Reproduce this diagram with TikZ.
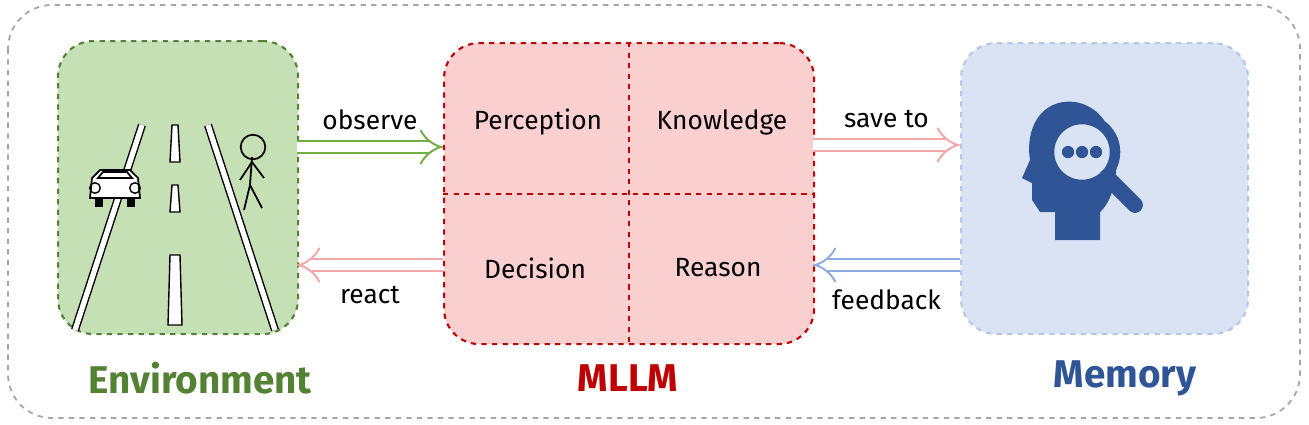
\documentclass[tikz,border=0pt]{standalone}
\usepackage{fontspec}
\setmainfont{Fira Sans}
\usetikzlibrary{arrows.meta}
\definecolor{envgreen}{HTML}{548235}
\definecolor{envfill}{HTML}{C5E0B4}
\definecolor{mred}{HTML}{C00000}
\definecolor{mfill}{HTML}{F9CFD0}
\definecolor{memblue}{HTML}{2F5597}
\definecolor{memline}{HTML}{B4C7E7}
\definecolor{memfill}{HTML}{DAE3F3}
\definecolor{arrpink}{HTML}{F4A6A8}
\definecolor{arrblue}{HTML}{8FAADC}
\definecolor{arrgreen}{HTML}{70AD47}
\begin{document}
\begin{tikzpicture}[x=0.02cm,y=-0.02cm, thick,
  box/.style = {draw, dashed, rounded corners=20pt, line width=1.2pt, anchor=north west},
  flow/.style = {double, double distance=6pt, line width=1.1pt, -{Implies}},
  lbl/.style = {font=\fontsize{15}{18}\selectfont},
  title/.style = {font=\fontsize{22}{26}\selectfont\bfseries}]
\useasboundingbox (0,0) rectangle (1309,424);
\draw[gray!70, dashed, rounded corners=25pt, line width=1pt] (8,5) rectangle (1300,418);
% boxes
\node[box, draw=envgreen, fill=envfill, minimum width=240*0.02cm, minimum height=293*0.02cm] (env) at (57,40) {};
\node[box, draw=mred, fill=mfill, minimum width=370*0.02cm, minimum height=301*0.02cm] (mllm) at (443,42) {};
\node[box, draw=memline, fill=memfill, minimum width=287*0.02cm, minimum height=291*0.02cm] (mem) at (960,42) {};
\draw[mred, dashed, line width=1.2pt] (mllm.north) -- (mllm.south);
\draw[mred, dashed, line width=1.2pt] (mllm.west) -- (mllm.east);
% quadrant texts
\node[lbl] (perc) at (538,122) {Perception};
\node[lbl] (know) at (722,122) {Knowledge};
\node[lbl] (deci) at (535,268) {Decision};
\node[lbl] (reas) at (718,268) {Reason};
% titles
\node[title, text=envgreen] (envt) at (200,378) {Environment};
\node[title, text=mred] (mllmt) at (628,378) {MLLM};
\node[title, text=memblue] (memt) at (1125,378) {Memory};
% arrows
\coordinate (o1) at (297,147); \coordinate (o2) at (443,147);
\coordinate (s1) at (813,145); \coordinate (s2) at (960,145);
\coordinate (r1) at (443,265); \coordinate (r2) at (297,265);
\coordinate (f1) at (960,265); \coordinate (f2) at (813,265);
\draw[flow, arrgreen] (o1) -- (o2) node[midway, above=6pt, text=black, lbl] {observe};
\draw[flow, arrpink] (s1) -- (s2) node[midway, above=6pt, text=black, lbl] {save to};
\draw[flow, arrpink] (r1) -- (r2) node[midway, below=8pt, text=black, lbl] {react};
\draw[flow, arrblue] (f1) -- (f2) node[midway, below=10pt, text=black, lbl] {feedback};
% road
\draw[double=white, double distance=3pt, line width=0.8pt] (75,330) -- (142,125);
\draw[double=white, double distance=3pt, line width=0.8pt] (208,125) -- (275,330);
\foreach \ya/\yb/\xa/\xb in {125/162/174/176, 185/212/174/176, 255/325/172/178}
  \draw[fill=white, line width=0.8pt] (\xa-2,\ya) -- (\xb+2,\ya) -- (\xb+4,\yb) -- (\xa-4,\yb) -- cycle;
% car
\draw[fill=white, line width=1pt] (90,198) -- (92,178) -- (100,170) -- (130,170) -- (138,178) -- (140,198) -- cycle;
\draw[line width=1pt] (98,178) -- (103,172) -- (127,172) -- (132,178) -- cycle;
\fill (95,198) rectangle (103,207); \fill (127,198) rectangle (135,207);
\draw (95,188) circle (3pt); \draw (135,188) circle (3pt);
% pedestrian
\draw[line width=1pt] (253,147) circle (7pt);
\draw[line width=1pt] (252,157) -- (250,185) -- (244,210);
\draw[line width=1pt] (250,185) -- (262,208);
\draw[line width=1pt] (252,162) -- (240,180); \draw[line width=1pt] (252,162) -- (264,178);
% memory icon
\fill[memblue] (1100,240) -- (1100,212) .. controls (1125,190) and (1125,110) .. (1075,102)
  .. controls (1040,98) and (1025,130) .. (1030,160) -- (1022,178) -- (1032,183) -- (1032,200)
  -- (1040,212) -- (1055,212) -- (1055,240) -- cycle;
\draw[memblue, line width=6pt, fill=memfill] (1082,152) circle (33*0.02cm);
\draw[memblue, line width=9pt, line cap=round] (1107,177) -- (1135,205);
\foreach \xx in {1068,1082,1096} \fill[memblue] (\xx,152) circle (3.5pt);
\end{tikzpicture}
\end{document}
